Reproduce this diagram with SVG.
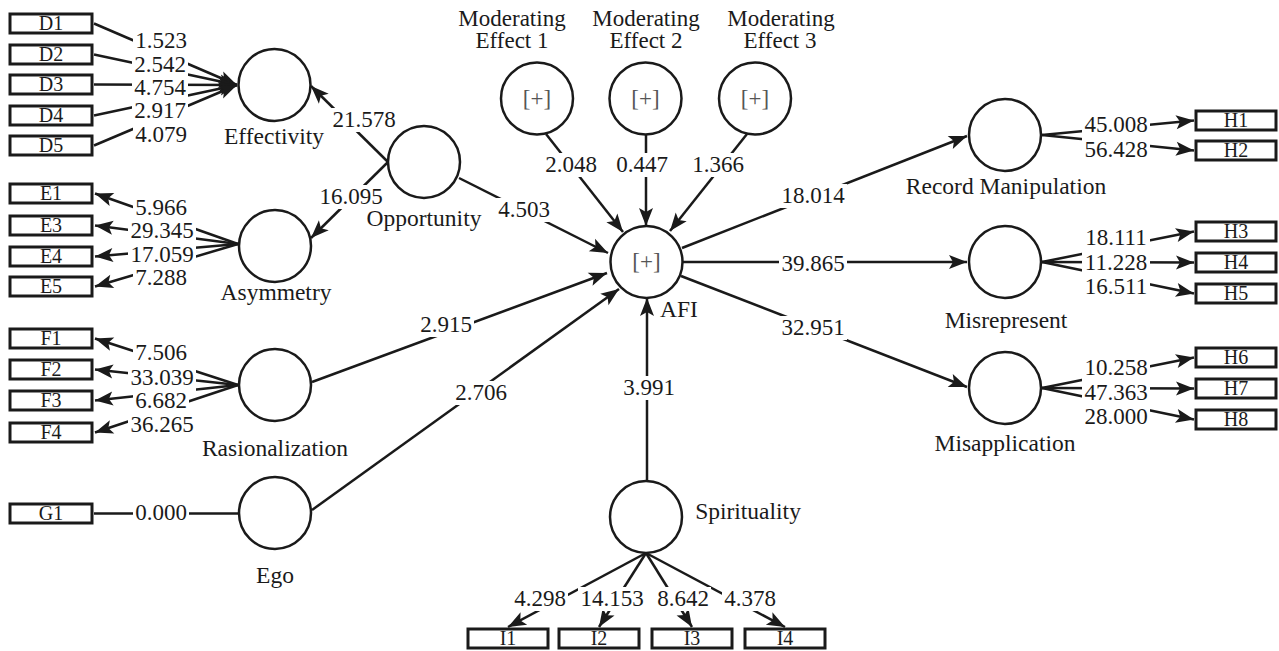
<svg xmlns="http://www.w3.org/2000/svg" width="1279" height="651" viewBox="0 0 1279 651">
<defs>
<marker id="ah" markerUnits="userSpaceOnUse" markerWidth="22" markerHeight="18" viewBox="-20 -9 22 18" refX="0" refY="0" orient="auto">
<path d="M0,0 L-18,-7 L-14,0 L-18,7 Z" fill="#1a1a1a"/>
</marker>
</defs>
<style>
.c{fill:#fff;stroke:#1a1a1a;stroke-width:2.5}
.b{fill:#fff;stroke:#1a1a1a;stroke-width:3}
.l{stroke:#1a1a1a;stroke-width:2.5;fill:none}
.a{marker-end:url(#ah)}
.bg{fill:#fff}
text{font-family:"Liberation Serif","Times New Roman",serif;fill:#1a1a1a}
.n{font-size:23px;text-anchor:middle}
.t{font-size:23.5px;text-anchor:middle}
.m{font-size:23px;text-anchor:middle}
.bt{font-size:20px;text-anchor:middle}
.p{font-size:23px;text-anchor:middle;fill:#555}
</style>
<rect x="0" y="0" width="1279" height="651" fill="#fff"/>

<g id="connectors">
<line class="l a" x1="94" y1="23.5" x2="237" y2="85"/>
<line class="l a" x1="94" y1="54.5" x2="237" y2="85"/>
<line class="l a" x1="94" y1="84.5" x2="237" y2="85"/>
<line class="l a" x1="94" y1="115.5" x2="237" y2="85"/>
<line class="l a" x1="94" y1="145.5" x2="237" y2="85"/>
<line class="l a" x1="238" y1="244" x2="95" y2="193.5"/>
<line class="l a" x1="238" y1="244" x2="95" y2="225.5"/>
<line class="l a" x1="238" y1="244" x2="95" y2="256.5"/>
<line class="l a" x1="238" y1="244" x2="95" y2="286.5"/>
<line class="l a" x1="238" y1="385" x2="95" y2="338.5"/>
<line class="l a" x1="238" y1="385" x2="95" y2="369.5"/>
<line class="l a" x1="238" y1="385" x2="95" y2="400.5"/>
<line class="l a" x1="238" y1="385" x2="95" y2="432.5"/>
<line class="l" x1="94" y1="513.5" x2="238" y2="513.5"/>
<line class="l a" x1="388" y1="162" x2="311" y2="86"/>
<line class="l a" x1="388" y1="162" x2="311" y2="238"/>
<line class="l a" x1="459" y1="178" x2="608" y2="253"/>
<line class="l a" x1="312" y1="382" x2="607" y2="273"/>
<line class="l a" x1="312" y1="510" x2="619" y2="289"/>
<line class="l a" x1="546" y1="134" x2="623" y2="232"/>
<line class="l a" x1="646" y1="135" x2="646" y2="226"/>
<line class="l a" x1="747" y1="134" x2="670" y2="231"/>
<line class="l a" x1="647" y1="481" x2="647" y2="298"/>
<line class="l a" x1="682" y1="248" x2="967" y2="136"/>
<line class="l a" x1="683" y1="262" x2="967" y2="262"/>
<line class="l a" x1="681" y1="276" x2="967" y2="387"/>
<line class="l a" x1="1042" y1="135" x2="1194" y2="120.5"/>
<line class="l a" x1="1042" y1="135" x2="1194" y2="150.5"/>
<line class="l a" x1="1042" y1="262" x2="1194" y2="231.5"/>
<line class="l a" x1="1042" y1="262" x2="1194" y2="262.5"/>
<line class="l a" x1="1042" y1="262" x2="1194" y2="293.5"/>
<line class="l a" x1="1042" y1="388" x2="1194" y2="357.5"/>
<line class="l a" x1="1042" y1="388" x2="1194" y2="388.5"/>
<line class="l a" x1="1042" y1="388" x2="1194" y2="419.5"/>
<line class="l a" x1="646" y1="553" x2="508" y2="627"/>
<line class="l a" x1="646" y1="553" x2="599" y2="627"/>
<line class="l a" x1="646" y1="553" x2="692" y2="627"/>
<line class="l a" x1="646" y1="553" x2="785" y2="627"/>

<!-- label backgrounds -->
<rect class="bg" x="133" y="29" width="56" height="26"/>
<rect class="bg" x="132" y="53" width="56" height="26"/>
<rect class="bg" x="132" y="76" width="56" height="26"/>
<rect class="bg" x="132" y="99" width="56" height="26"/>
<rect class="bg" x="133" y="123" width="56" height="26"/>
<rect class="bg" x="133" y="196" width="56" height="26"/>
<rect class="bg" x="128" y="219" width="68" height="26"/>
<rect class="bg" x="128" y="243" width="68" height="26"/>
<rect class="bg" x="133" y="266" width="56" height="26"/>
<rect class="bg" x="133" y="341" width="56" height="26"/>
<rect class="bg" x="128" y="366" width="68" height="26"/>
<rect class="bg" x="133" y="389" width="56" height="26"/>
<rect class="bg" x="128" y="413" width="68" height="26"/>
<rect class="bg" x="133" y="501" width="56" height="24"/>
<rect class="bg" x="330" y="108" width="68" height="24"/>
<rect class="bg" x="317" y="185" width="68" height="24"/>
<rect class="bg" x="496" y="198" width="56" height="24"/>
<rect class="bg" x="418" y="313" width="56" height="24"/>
<rect class="bg" x="453" y="381" width="56" height="24"/>
<rect class="bg" x="543" y="153" width="56" height="24"/>
<rect class="bg" x="614" y="153" width="56" height="24"/>
<rect class="bg" x="690" y="153" width="56" height="24"/>
<rect class="bg" x="621" y="376" width="56" height="24"/>
<rect class="bg" x="779" y="184" width="68" height="24"/>
<rect class="bg" x="779" y="252" width="68" height="24"/>
<rect class="bg" x="779" y="316" width="68" height="24"/>
<rect class="bg" x="1082" y="113" width="68" height="26"/>
<rect class="bg" x="1082" y="138" width="68" height="26"/>
<rect class="bg" x="1082" y="226" width="68" height="26"/>
<rect class="bg" x="1082" y="251" width="68" height="26"/>
<rect class="bg" x="1082" y="275" width="68" height="26"/>
<rect class="bg" x="1082" y="356" width="68" height="26"/>
<rect class="bg" x="1082" y="381" width="68" height="26"/>
<rect class="bg" x="1082" y="405" width="68" height="26"/>
<rect class="bg" x="512" y="587" width="56" height="24"/>
<rect class="bg" x="578" y="587" width="68" height="24"/>
<rect class="bg" x="655" y="587" width="56" height="24"/>
<rect class="bg" x="722" y="587" width="56" height="24"/>

<text class="n" x="161" y="48">1.523</text>
<text class="n" x="160" y="72">2.542</text>
<text class="n" x="160" y="95">4.754</text>
<text class="n" x="160" y="118">2.917</text>
<text class="n" x="161" y="142">4.079</text>
<text class="n" x="161" y="215">5.966</text>
<text class="n" x="162" y="238">29.345</text>
<text class="n" x="162" y="262">17.059</text>
<text class="n" x="161" y="285">7.288</text>
<text class="n" x="161" y="360">7.506</text>
<text class="n" x="162" y="385">33.039</text>
<text class="n" x="161" y="408">6.682</text>
<text class="n" x="162" y="432">36.265</text>
<text class="n" x="161" y="520">0.000</text>
<text class="n" x="364" y="127">21.578</text>
<text class="n" x="351" y="204">16.095</text>
<text class="n" x="524" y="217">4.503</text>
<text class="n" x="446" y="332">2.915</text>
<text class="n" x="481" y="400">2.706</text>
<text class="n" x="571" y="172">2.048</text>
<text class="n" x="642" y="172">0.447</text>
<text class="n" x="718" y="172">1.366</text>
<text class="n" x="649" y="395">3.991</text>
<text class="n" x="813" y="203">18.014</text>
<text class="n" x="813" y="271">39.865</text>
<text class="n" x="813" y="335">32.951</text>
<text class="n" x="1116" y="132">45.008</text>
<text class="n" x="1116" y="157">56.428</text>
<text class="n" x="1116" y="245">18.111</text>
<text class="n" x="1116" y="270">11.228</text>
<text class="n" x="1116" y="294">16.511</text>
<text class="n" x="1116" y="375">10.258</text>
<text class="n" x="1116" y="400">47.363</text>
<text class="n" x="1116" y="424">28.000</text>
<text class="n" x="540" y="606">4.298</text>
<text class="n" x="612" y="606">14.153</text>
<text class="n" x="683" y="606">8.642</text>
<text class="n" x="750" y="606">4.378</text>
</g>

<g id="node-D1"><rect class="b" x="10" y="14" width="82" height="19"/><text class="bt" x="51" y="30">D1</text></g>
<g id="node-D2"><rect class="b" x="10" y="45" width="82" height="19"/><text class="bt" x="51" y="61">D2</text></g>
<g id="node-D3"><rect class="b" x="10" y="75" width="82" height="19"/><text class="bt" x="51" y="91">D3</text></g>
<g id="node-D4"><rect class="b" x="10" y="106" width="82" height="19"/><text class="bt" x="51" y="122">D4</text></g>
<g id="node-D5"><rect class="b" x="10" y="136" width="82" height="19"/><text class="bt" x="51" y="152">D5</text></g>

<g id="node-E1"><rect class="b" x="10" y="184" width="82" height="19"/><text class="bt" x="51" y="200">E1</text></g>
<g id="node-E3"><rect class="b" x="10" y="216" width="82" height="19"/><text class="bt" x="51" y="232">E3</text></g>
<g id="node-E4"><rect class="b" x="10" y="247" width="82" height="19"/><text class="bt" x="51" y="263">E4</text></g>
<g id="node-E5"><rect class="b" x="10" y="277" width="82" height="19"/><text class="bt" x="51" y="293">E5</text></g>

<g id="node-F1"><rect class="b" x="10" y="329" width="82" height="19"/><text class="bt" x="51" y="345">F1</text></g>
<g id="node-F2"><rect class="b" x="10" y="360" width="82" height="19"/><text class="bt" x="51" y="376">F2</text></g>
<g id="node-F3"><rect class="b" x="10" y="391" width="82" height="19"/><text class="bt" x="51" y="407">F3</text></g>
<g id="node-F4"><rect class="b" x="10" y="423" width="82" height="19"/><text class="bt" x="51" y="439">F4</text></g>

<g id="node-G1"><rect class="b" x="10" y="504" width="82" height="19"/><text class="bt" x="51" y="520">G1</text></g>

<g id="node-H1"><rect class="b" x="1196" y="111" width="80" height="19"/><text class="bt" x="1236" y="127">H1</text></g>
<g id="node-H2"><rect class="b" x="1196" y="141" width="80" height="19"/><text class="bt" x="1236" y="157">H2</text></g>
<g id="node-H3"><rect class="b" x="1196" y="222" width="80" height="19"/><text class="bt" x="1236" y="238">H3</text></g>
<g id="node-H4"><rect class="b" x="1196" y="253" width="80" height="19"/><text class="bt" x="1236" y="269">H4</text></g>
<g id="node-H5"><rect class="b" x="1196" y="284" width="80" height="19"/><text class="bt" x="1236" y="300">H5</text></g>
<g id="node-H6"><rect class="b" x="1196" y="348" width="80" height="19"/><text class="bt" x="1236" y="364">H6</text></g>
<g id="node-H7"><rect class="b" x="1196" y="379" width="80" height="19"/><text class="bt" x="1236" y="395">H7</text></g>
<g id="node-H8"><rect class="b" x="1196" y="410" width="80" height="19"/><text class="bt" x="1236" y="426">H8</text></g>

<g id="node-I1"><rect class="b" x="468" y="629" width="80" height="19"/><text class="bt" x="508" y="645">I1</text></g>
<g id="node-I2"><rect class="b" x="559" y="629" width="80" height="19"/><text class="bt" x="599" y="645">I2</text></g>
<g id="node-I3"><rect class="b" x="652" y="629" width="80" height="19"/><text class="bt" x="692" y="645">I3</text></g>
<g id="node-I4"><rect class="b" x="745" y="629" width="80" height="19"/><text class="bt" x="785" y="645">I4</text></g>

<g id="node-Effectivity"><circle class="c" cx="274.5" cy="85" r="36"/><text class="t" x="274" y="144">Effectivity</text></g>
<g id="node-Opportunity"><circle class="c" cx="424" cy="162" r="36"/><text class="t" x="424" y="226">Opportunity</text></g>
<g id="node-Asymmetry"><circle class="c" cx="275" cy="246" r="36"/><text class="t" x="276" y="300">Asymmetry</text></g>
<g id="node-Rasionalization"><circle class="c" cx="275" cy="385" r="36"/><text class="t" x="275" y="456">Rasionalization</text></g>
<g id="node-Ego"><circle class="c" cx="275" cy="513" r="36"/><text class="t" x="275" y="583">Ego</text></g>
<g id="node-ME1"><circle class="c" cx="537" cy="98.5" r="36"/><text class="p" x="537" y="106">[+]</text><text class="m" x="512" y="26">Moderating</text><text class="m" x="512" y="48">Effect 1</text></g>
<g id="node-ME2"><circle class="c" cx="645.5" cy="98.5" r="36"/><text class="p" x="645.5" y="106">[+]</text><text class="m" x="646" y="26">Moderating</text><text class="m" x="646" y="48">Effect 2</text></g>
<g id="node-ME3"><circle class="c" cx="755" cy="98.5" r="36"/><text class="p" x="755" y="106">[+]</text><text class="m" x="781" y="26">Moderating</text><text class="m" x="780" y="48">Effect 3</text></g>
<g id="node-AFI"><circle class="c" cx="646.5" cy="262" r="36"/><text class="p" x="646.5" y="269">[+]</text><text class="t" x="679" y="317">AFI</text></g>
<g id="node-Spirituality"><circle class="c" cx="646" cy="517" r="36"/><text class="t" x="748" y="519">Spirituality</text></g>
<g id="node-RecordManipulation"><circle class="c" cx="1005" cy="135" r="36"/><text class="t" x="1006" y="194">Record Manipulation</text></g>
<g id="node-Misrepresent"><circle class="c" cx="1005" cy="262" r="36"/><text class="t" x="1006" y="328">Misrepresent</text></g>
<g id="node-Misapplication"><circle class="c" cx="1005" cy="388" r="36"/><text class="t" x="1005" y="451">Misapplication</text></g>
</svg>
